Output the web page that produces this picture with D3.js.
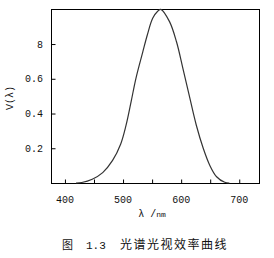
<!DOCTYPE html>
<html>
<head>
<meta charset="utf-8">
<script src="https://cdn.jsdelivr.net/npm/d3@7"></script>
<style>
  body { margin: 0; background: #fff; }
  text { fill: #111; }
</style>
</head>
<body>
<div id="CHART"></div>
<script>
// ------------------------- data ------------------------//

var wavelengths = [419, 429, 447, 465, 482, 496, 505, 514, 522, 534, 542, 551, 560, 565,
  580, 592, 603, 615, 626, 638, 649, 661, 675, 683];
var values = [0, 0.003, 0.022, 0.06, 0.13, 0.225, 0.33, 0.47, 0.6, 0.755, 0.855, 0.948, 0.99, 1.0,
  0.929, 0.813, 0.660, 0.488, 0.334, 0.200, 0.104, 0.036, 0.004, 0];

var xTicks = [400, 450, 500, 550, 600, 650, 700];
var xTickLabels = { 400: "400", 500: "500", 600: "600", 700: "700" };
var yTicks = [0.2, 0.4, 0.6, 0.8];
var yTickLabels = ["0.2", "0.4", "0.6", "8"];

// ------------------------- svg init ------------------------//

var width = 274,
  height = 258;

var box = { left: 51, top: 9, right: 259, bottom: 183 };
var mono = "Liberation Mono, DejaVu Sans Mono, monospace";

var svg = d3.select("#CHART").append("svg")
  .attr("width", width)
  .attr("height", height);

var x = d3.scaleLinear()
  .domain([376, 734])
  .range([box.left, box.right]);

var y = d3.scaleLinear()
  .domain([0, 1.0])
  .range([box.bottom, box.top + 0.3]);

// frame
svg.append("rect")
  .attr("x", box.left + 0.5)
  .attr("y", box.top + 0.5)
  .attr("width", box.right - box.left)
  .attr("height", box.bottom - box.top)
  .attr("fill", "none")
  .attr("stroke", "#000")
  .attr("stroke-width", 1);

// x axis, ticks pointing inside
var xAxis = svg.append("g")
  .attr("transform", "translate(0," + (box.bottom + 0.5) + ")")
  .call(d3.axisTop(x)
    .tickValues(xTicks)
    .tickSize(4)
    .tickFormat(function () { return ""; }));
xAxis.select(".domain").remove();

svg.append("g").selectAll("text")
  .data(xTicks.filter(function (d) { return xTickLabels[d]; }))
  .enter().append("text")
  .attr("x", function (d) { return x(d); })
  .attr("y", 203)
  .attr("text-anchor", "middle")
  .style("font-family", mono)
  .style("font-size", "10px")
  .text(function (d) { return xTickLabels[d]; });

// y axis, ticks pointing inside
var yAxis = svg.append("g")
  .attr("transform", "translate(" + (box.left + 0.5) + ",0)")
  .call(d3.axisRight(y)
    .tickValues(yTicks)
    .tickSize(4)
    .tickFormat(function () { return ""; }));
yAxis.select(".domain").remove();

svg.append("g").selectAll("text")
  .data(yTicks)
  .enter().append("text")
  .attr("x", 43)
  .attr("y", function (d) { return y(d); })
  .attr("dy", "0.35em")
  .attr("text-anchor", "end")
  .style("font-family", mono)
  .style("font-size", "10px")
  .text(function (d, i) { return yTickLabels[i]; });

// curve
var line = d3.line()
  .x(function (d) { return x(d[0]); })
  .y(function (d) { return y(d[1]); })
  .curve(d3.curveCatmullRom.alpha(0.5));

svg.append("path")
  .datum(wavelengths.map(function (w, i) { return [w, values[i]]; }))
  .attr("d", line)
  .attr("fill", "none")
  .attr("stroke", "#333")
  .attr("stroke-width", 1.2);

// labels
svg.append("text")
  .attr("transform", "translate(13," + ((box.top + box.bottom) / 2 + 2) + ") rotate(-90)")
  .attr("text-anchor", "middle")
  .style("font-family", mono)
  .style("font-size", "10px")
  .text("V(λ)");

var xl = svg.append("text")
  .attr("x", 152)
  .attr("y", 217)
  .attr("text-anchor", "middle")
  .style("font-family", mono)
  .style("font-size", "10px");
xl.append("tspan").text("λ /");
xl.append("tspan").style("font-size", "8px").text("nm");

svg.append("text")
  .attr("x", 62)
  .attr("y", 249)
  .style("font-family", "Noto Sans CJK SC, sans-serif")
  .style("font-size", "11px")
  .text("图");

svg.append("text")
  .attr("x", 86)
  .attr("y", 249)
  .style("font-family", mono)
  .style("font-size", "11px")
  .text("1.3");

svg.append("text")
  .attr("x", 120)
  .attr("y", 249)
  .style("font-family", "Noto Sans CJK SC, sans-serif")
  .style("font-size", "12px")
  .style("letter-spacing", "1.5px")
  .text("光谱光视效率曲线");
</script>
</body>
</html>
